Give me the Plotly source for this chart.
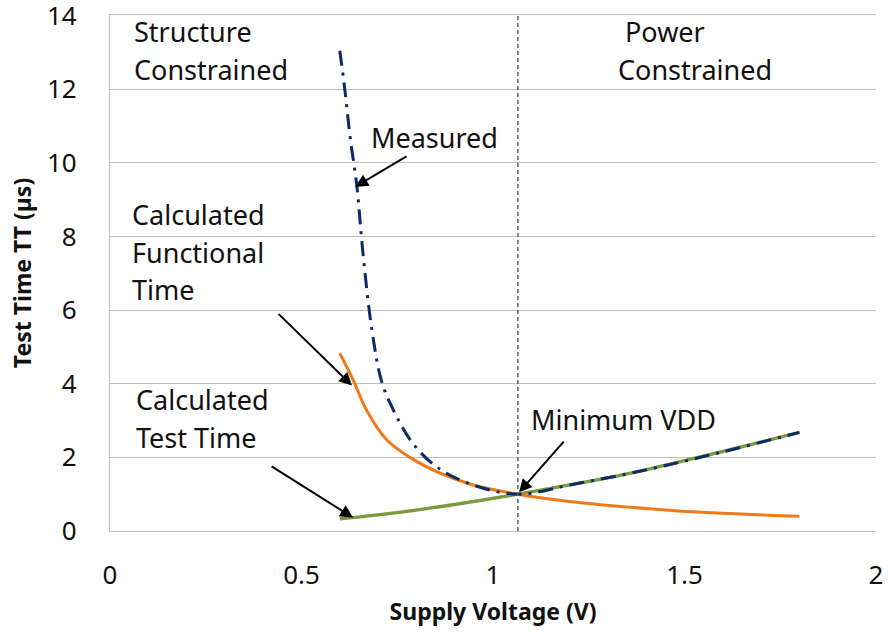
import plotly.graph_objects as go

# Data
measured_x = [0.60, 0.613, 0.627, 0.645, 0.66, 0.684, 0.71, 0.744, 0.79, 0.853, 0.94, 1.065, 1.2, 1.4, 1.6, 1.8]
measured_y = [13.05, 12.0, 10.7, 9.33, 7.6, 5.45, 4.04, 3.2, 2.39, 1.74, 1.28, 1.0, 1.25, 1.66, 2.15, 2.68]

functional_x = [0.60, 0.635, 0.67, 0.723, 0.783, 0.862, 0.948, 1.065, 1.2, 1.35, 1.52, 1.80]
functional_y = [4.83, 4.1, 3.28, 2.47, 2.0, 1.57, 1.25, 1.0, 0.80, 0.65, 0.52, 0.40]

testtime_x = [0.60, 0.75, 0.90, 1.065, 1.2, 1.35, 1.56, 1.80]
testtime_y = [0.33, 0.50, 0.72, 1.0, 1.25, 1.55, 2.06, 2.68]

min_vdd = 1.065

x_ticks = [0, 0.5, 1, 1.5, 2]
x_tick_labels = ["0", "0.5", "1", "1.5", "2"]
y_ticks = [0, 2, 4, 6, 8, 10, 12, 14]

FONT = "Noto Sans"

fig = go.Figure()
fig.add_trace(go.Scatter(x=testtime_x, y=testtime_y, mode="lines",
                         line=dict(color="#7A9A3C", width=3.3, shape="spline"),
                         name="Calculated Test Time"))
fig.add_trace(go.Scatter(x=functional_x, y=functional_y, mode="lines",
                         line=dict(color="#F07A18", width=3, shape="spline"),
                         name="Calculated Functional Time"))
fig.add_trace(go.Scatter(x=measured_x, y=measured_y, mode="lines",
                         line=dict(color="#0B2A66", width=3, shape="spline",
                                   dash="15px,7px,3px,7px"),
                         name="Measured"))

fig.add_shape(type="line", x0=min_vdd, x1=min_vdd, y0=0, y1=1, yref="paper",
              line=dict(color="#606060", width=1.5, dash="4px,3px"))

txt = dict(size=27, color="#111111", family=FONT)

def label(x, y, text, xanchor="left"):
    fig.add_annotation(x=x, y=y, xref="x", yref="y", text=text, showarrow=False,
                       xanchor=xanchor, yanchor="middle", font=txt)

label(0.058, 13.56, "Structure")
label(0.058, 12.53, "Constrained")
label(1.449, 13.56, "Power", xanchor="center")
label(1.527, 12.53, "Constrained", xanchor="center")
label(0.677, 10.68, "Measured")
label(0.053, 8.61, "Calculated")
label(0.053, 7.58, "Functional")
label(0.053, 6.55, "Time")
label(0.063, 3.56, "Calculated")
label(0.063, 2.53, "Test Time")
label(1.095, 3.02, "Minimum VDD")

def arrow(x, y, ax, ay):
    fig.add_annotation(x=x, y=y, ax=ax, ay=ay, xref="x", yref="y", axref="x", ayref="y",
                       text="", showarrow=True, arrowhead=2, arrowsize=1.3,
                       arrowwidth=2, arrowcolor="#000000")

arrow(0.64, 9.35, 0.778, 10.2)
arrow(0.632, 3.95, 0.436, 5.94)
arrow(0.635, 0.36, 0.418, 1.78)
arrow(1.068, 1.05, 1.188, 2.47)

fig.update_layout(
    width=888, height=634,
    margin=dict(l=110, r=12, t=15, b=103),
    paper_bgcolor="white", plot_bgcolor="white",
    showlegend=False,
    font=dict(family=FONT, color="#111111"),
    xaxis=dict(range=[0, 2], tickvals=x_ticks, ticktext=x_tick_labels,
               showgrid=False, zeroline=False, showline=True, linecolor="#BFBFBF",
               linewidth=1.2, mirror=True, ticks="", tickfont=dict(size=26, family=FONT),
               ticklabelstandoff=21, ticklabeloverflow="allow", automargin=False,
               title=dict(text="<b>Supply Voltage (V)</b>", font=dict(size=23, family=FONT),
                          standoff=12)),
    yaxis=dict(range=[0, 14.02], tickvals=y_ticks, showgrid=True, gridcolor="#BFBFBF",
               gridwidth=1.2, zeroline=False, showline=True, linecolor="#BFBFBF",
               linewidth=1.2, ticks="", tickfont=dict(size=26, family=FONT),
               ticklabelstandoff=27, ticklabeloverflow="allow", automargin=False,
               title=dict(text="<b>Test Time TT (µs)</b>", font=dict(size=23, family=FONT),
                          standoff=8)),
)

# Remove the default page margin so the 888x634 figure fills the window exactly.
fig.write_html("out.html", config={"displayModeBar": False},
               post_script="document.body.style.margin='0';document.body.style.padding='0';")
